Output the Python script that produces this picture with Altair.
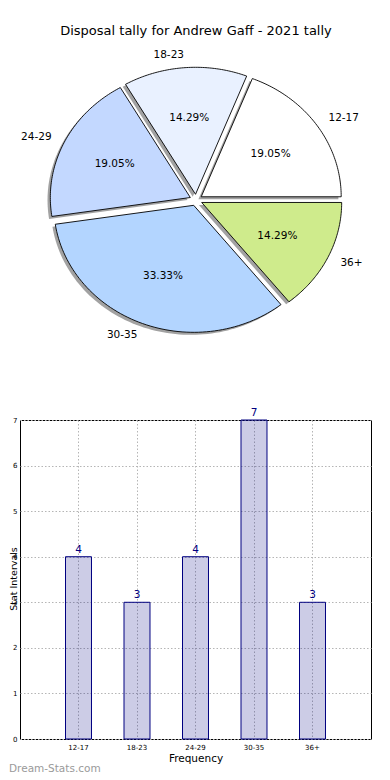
import altair as alt
import pandas as pd

# ---- data ----
categories = ["12-17", "18-23", "24-29", "30-35", "36+"]
tallies = [4, 3, 4, 7, 3]
slice_colors = ["#ffffff", "#e9f1ff", "#c3d8ff", "#b3d5ff", "#cfeb8c"]
y_ticks = [0, 1, 2, 3, 4, 5, 6, 7]
chart_title = "Disposal tally for Andrew Gaff - 2021 tally"
x_title = "Frequency"
y_title = "Stat Intervals"
watermark = "Dream-Stats.com"

FONT = "DejaVu Sans"

# ---- pie geometry (layout/style only) ----
N = 72            # arc sampling per slice
EXPLODE = 0.045
SHADOW = 0.02
CX, CY, RX, RY = 176, 191, 140, 127
PIE_W, PIE_H = 351, 397

pie_df = pd.DataFrame({"cat": categories, "val": tallies, "col": slice_colors,
                       "idx": list(range(len(categories)))})

xs = alt.Scale(domain=[-1, 1], range=[CX - RX, CX + RX], nice=False, zero=False)
ys = alt.Scale(domain=[-1, 1], range=[CY + RY, CY - RY], nice=False, zero=False)

base = (
    alt.Chart(pie_df)
    .transform_joinaggregate(total="sum(val)")
    .transform_window(cum="sum(val)", sort=[alt.SortField("idx")])
    .transform_calculate(
        a0="2*PI*(datum.cum - datum.val)/datum.total",
        a1="2*PI*datum.cum/datum.total",
    )
    .transform_calculate(am="(datum.a0 + datum.a1)/2")
    .transform_calculate(
        ex=f"{EXPLODE}*cos(datum.am)",
        ey=f"{EXPLODE}*sin(datum.am)",
        pct="format(100*datum.val/datum.total, '.2f') + '%'",
    )
)

poly = (
    base.transform_calculate(s=f"sequence(-1, {N + 1})")
    .transform_flatten(["s"])
    .transform_calculate(
        ang=f"datum.a0 + (datum.a1 - datum.a0)*max(datum.s, 0)/{N}",
    )
    .transform_calculate(
        px="datum.ex + (datum.s < 0 ? 0 : cos(datum.ang))",
        py="datum.ey + (datum.s < 0 ? 0 : sin(datum.ang))",
    )
    .transform_calculate(
        sx=f"datum.px - {SHADOW}",
        sy=f"datum.py - {SHADOW}",
    )
)

shadows = poly.mark_line(
    filled=True, interpolate="linear-closed", fill="#555555", fillOpacity=0.55,
    strokeWidth=0,
).encode(
    x=alt.X("sx:Q", scale=xs, axis=None),
    y=alt.Y("sy:Q", scale=ys, axis=None),
    detail="cat:N",
    order="s:Q",
)

wedges = poly.mark_line(
    filled=True, interpolate="linear-closed", stroke="black", strokeWidth=0.9,
    strokeJoin="round",
).encode(
    x=alt.X("px:Q", scale=xs, axis=None),
    y=alt.Y("py:Q", scale=ys, axis=None),
    detail="cat:N",
    order="s:Q",
    fill=alt.Fill("col:N", scale=None),
)

pcts = base.transform_calculate(
    tx="datum.ex + 0.6*cos(datum.am)", ty="datum.ey + 0.6*sin(datum.am)"
).mark_text(fontSize=10.5, font=FONT, color="black", baseline="middle").encode(
    x=alt.X("tx:Q", scale=xs, axis=None),
    y=alt.Y("ty:Q", scale=ys, axis=None),
    text="pct:N",
)

lab = base.transform_calculate(
    lx="datum.ex + 1.1*cos(datum.am)", ly="datum.ey + 1.1*sin(datum.am)"
)
labels_r = lab.transform_filter("cos(datum.am) >= 0").mark_text(
    fontSize=10.5, font=FONT, color="black", align="left", baseline="middle"
).encode(
    x=alt.X("lx:Q", scale=xs, axis=None),
    y=alt.Y("ly:Q", scale=ys, axis=None),
    text="cat:N",
)
labels_l = lab.transform_filter("cos(datum.am) < 0").mark_text(
    fontSize=10.5, font=FONT, color="black", align="right", baseline="middle"
).encode(
    x=alt.X("lx:Q", scale=xs, axis=None),
    y=alt.Y("ly:Q", scale=ys, axis=None),
    text="cat:N",
)

title_mark = alt.Chart(pd.DataFrame({"t": [chart_title]})).mark_text(
    fontSize=13, font=FONT, color="black", align="center", baseline="middle"
).encode(text="t:N", x=alt.value(CX), y=alt.value(22))

pie = alt.layer(shadows, wedges, pcts, labels_r, labels_l, title_mark).properties(
    width=PIE_W, height=PIE_H, view=alt.ViewBackground(stroke="transparent")
)

# ---- bar chart ----
bar_df = pd.DataFrame({"cat": categories, "val": tallies})

grid_dash = [1.5, 2]
grid_col = "#b5b5b5"

xb = alt.X(
    "cat:N", sort=categories,
    scale=alt.Scale(paddingInner=0.556, paddingOuter=0.778),
    axis=alt.Axis(
        title=x_title, labelAngle=0, labelFontSize=7, titleFontSize=10.5,
        titleFontWeight="normal", labelColor="black", titleColor="black",
        grid=True, gridDash=grid_dash, gridColor=grid_col, gridWidth=1,
        ticks=False, domain=False, labelPadding=4, titlePadding=3,
        bandPosition=0.5, labelFont=FONT, titleFont=FONT,
    ),
)
yb = alt.Y(
    "val:Q", scale=alt.Scale(domain=[0, 7], nice=False),
    axis=alt.Axis(
        title=None, values=y_ticks, labelFontSize=7, labelColor="black",
        grid=True, gridDash=grid_dash, gridColor=grid_col, gridWidth=1,
        ticks=False, domain=False, labelPadding=3, labelFont=FONT,
    ),
)

bars = alt.Chart(bar_df).mark_bar(
    fill="#000080", fillOpacity=0.2, stroke="#000080", strokeWidth=1
).encode(x=xb, y=yb)

values = alt.Chart(bar_df).mark_text(
    fontSize=10.5, font=FONT, color="#000080", baseline="bottom", dy=-2
).encode(
    x=alt.X("cat:N", sort=categories), y=alt.Y("val:Q"), text="val:Q"
)

ytitle = alt.Chart(pd.DataFrame({"t": [y_title]})).mark_text(
    angle=270, fontSize=9.5, font=FONT, color="black", align="center",
    baseline="middle"
).encode(text="t:N", x=alt.value(-6.5), y=alt.value(159))

wm = alt.Chart(pd.DataFrame({"t": [watermark]})).mark_text(
    fontSize=10.5, font=FONT, color="#9a9a9a", align="left", baseline="middle"
).encode(text="t:N", x=alt.value(-11), y=alt.value(349))

barchart = alt.layer(bars, values, ytitle, wm).properties(
    width=351, height=319,
    view=alt.ViewBackground(stroke="black", strokeWidth=1),
)

chart = (
    alt.vconcat(pie, barchart, spacing=0)
    .properties(padding={"left": 0, "top": 0, "right": 0, "bottom": 0})
    .configure(font=FONT)
)

chart.save("out.html", embed_options={"renderer": "svg", "actions": False})
